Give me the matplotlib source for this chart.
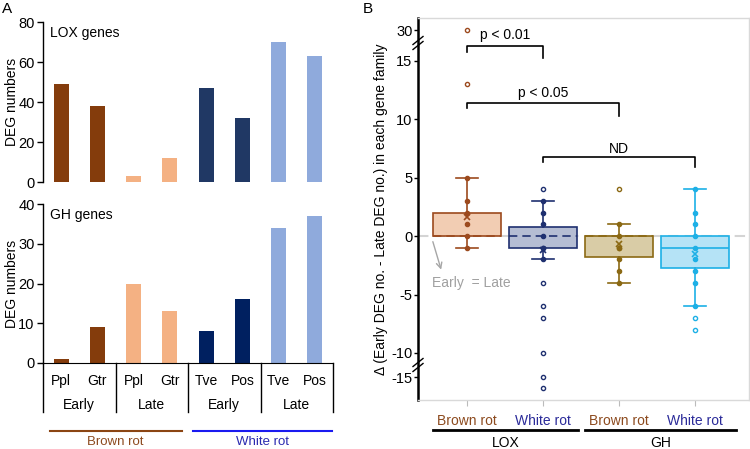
import matplotlib
matplotlib.use("Agg")
import matplotlib.pyplot as plt
import matplotlib.transforms as mtransforms
import numpy as np

plt.rcParams['font.family'] = ['Liberation Sans', 'DejaVu Sans']

# ---- panel A data ----
strains = ['Ppl', 'Gtr', 'Ppl', 'Gtr', 'Tve', 'Pos', 'Tve', 'Pos']
stages = ['Early', 'Late', 'Early', 'Late']
lox_counts = [49, 38, 3, 12, 47, 32, 70, 63]
gh_counts = [1, 9, 20, 13, 8, 16, 34, 37]
lox_colors = ['#843C0C', '#843C0C', '#F4B183', '#F4B183',
              '#203864', '#203864', '#8FAADC', '#8FAADC']
gh_colors = ['#843C0C', '#843C0C', '#F4B183', '#F4B183',
             '#002060', '#002060', '#8FAADC', '#8FAADC']

# ---- panel B data ----
groups = ['Brown rot', 'White rot', 'Brown rot', 'White rot']
families = ['LOX', 'GH']
box_stats = [
    dict(q1=0, med=0, q3=2, whislo=-1, whishi=5, mean=1.65),
    dict(q1=-1, med=0, q3=0.75, whislo=-2, whishi=3, mean=-1.2),
    dict(q1=-1.8, med=0, q3=0, whislo=-4, whishi=1, mean=-0.7),
    dict(q1=-2.75, med=-1, q3=0, whislo=-6, whishi=4, mean=-1.5),
]
points = [
    [30, 13, 5, 3, 2, 1, 0, -1],
    [4, 3, 2, 1, 0, -1, -1, -2, -4, -6, -7, -10, -15, -16],
    [4, 1, 0, -1, -1, -2, -3, -4],
    [4, 2, 1, 0, -1, -2, -3, -4, -6, -7, -8],
]
box_faces = ['#F2CDB3', '#B5BDD3', '#D9CCA6', '#B5E3F6']
box_edges = ['#9C4A1E', '#1F3070', '#8B6914', '#1DB0E6']
label_colors = ['#8C4A1E', '#2A2A99', '#8C4A1E', '#2A2A99']

fig = plt.figure(figsize=(7.5, 4.49), dpi=100)

# ================= panel A =================
ax1 = fig.add_axes([43/750, 1-182/449, 290/750, 160/449])
ax2 = fig.add_axes([43/750, 1-363/449, 290/750, 159/449])
xpos = np.arange(len(strains)) + 0.5

ax1.bar(xpos, lox_counts, width=0.42, color=lox_colors)
ax2.bar(xpos, gh_counts, width=0.42, color=gh_colors)

for ax in (ax1, ax2):
    ax.set_xlim(0, 8)
    for s in ['top', 'right']:
        ax.spines[s].set_visible(False)
    ax.spines['left'].set_linewidth(1.0)
    ax.tick_params(axis='y', labelsize=10.5, length=4, width=1, pad=2)
    ax.set_ylabel('DEG numbers', fontsize=10)
    ax.yaxis.set_label_coords(-0.083, 0.5)

ax1.spines['bottom'].set_visible(False)
ax1.set_xticks([])
ax1.set_ylim(0, 80)
ax1.set_yticks([0, 20, 40, 60, 80])
ax1.text(0.2, 78, 'LOX genes', fontsize=10, va='top')

ax2.set_ylim(0, 40)
ax2.set_yticks([0, 10, 20, 30, 40])
ax2.set_xticks(xpos)
ax2.set_xticklabels(strains, fontsize=10)
ax2.tick_params(axis='x', length=0, pad=8)
ax2.text(0.2, 39, 'GH genes', fontsize=10, va='top')

sep = mtransforms.blended_transform_factory(ax2.transData, ax2.transAxes)
for xs in [0, 2, 4, 6, 8]:
    ax2.plot([xs, xs], [0, -0.31], color='black', lw=1, transform=sep, clip_on=False)
for i, st in enumerate(stages):
    ax2.text(2*i + 1, -0.265, st, transform=sep, ha='center', va='center', fontsize=10)

figx = mtransforms.blended_transform_factory(ax2.transData, fig.transFigure)
ax2.plot([0.19, 3.83], [1-431/449]*2, color='#8B4513', lw=1.5, transform=figx, clip_on=False)
ax2.plot([4.14, 7.97], [1-431/449]*2, color='#1A1AF0', lw=1.5, transform=figx, clip_on=False)
ax2.text(2.0, 1/449, 'Brown rot', color='#8C4A1E', fontsize=9.5, ha='center', va='bottom', transform=figx)
ax2.text(6.05, 1/449, 'White rot', color='#2A2AB0', fontsize=9.5, ha='center', va='bottom', transform=figx)

fig.text(2/750, 1-9/449, 'A', fontsize=11, va='center')
fig.text(363/750, 1-9/449, 'B', fontsize=11, va='center')


# ================= panel B =================
def fwd(y):
    y = np.asarray(y, float)
    return np.where(y > 15, 15 + (y - 15) * 2.6 / 15,
           np.where(y >= -10, y,
           np.where(y >= -15, -10 + (y + 10) * 0.414, -12.07 + (y + 15) * 0.93)))


def inv(t):
    t = np.asarray(t, float)
    return np.where(t > 15, 15 + (t - 15) * 15 / 2.6,
           np.where(t >= -10, t,
           np.where(t >= -12.07, -10 + (t + 10) / 0.414, -15 + (t + 12.07) / 0.93)))


axb = fig.add_axes([418/750, 1-400/449, 331/750, 382/449])
axb.set_yscale('function', functions=(fwd, inv))
axb.set_xlim(0.355, 4.71)
axb.set_ylim(-17.1, 36.1)

axb.axhline(0, color='#D4D4D4', ls=(0, (5, 3)), lw=1.5, zorder=0)

positions = np.arange(1, len(groups) + 1)
for i, st in enumerate(box_stats):
    s = dict(st, fliers=[])
    art = axb.bxp([s], positions=[positions[i]], widths=0.9, capwidths=0.3,
                  showmeans=True, patch_artist=True, showfliers=False)
    c = box_edges[i]
    for b in art['boxes']:
        b.set_facecolor(box_faces[i])
        b.set_edgecolor(c)
        b.set_linewidth(1.2)
    for w in art['whiskers'] + art['caps']:
        w.set_color(c)
        w.set_linewidth(1.2)
    for m in art['medians']:
        m.set_color(c)
        m.set_linewidth(1.2)
        if st['med'] == 0:
            m.set_linestyle((0, (5, 3)))
    for m in art['means']:
        m.set_marker('x')
        m.set_markeredgecolor(c)
        m.set_markerfacecolor(c)
        m.set_markersize(5)
        m.set_markeredgewidth(1.2)
    vals = np.array(points[i], float)
    inside = (vals >= st['whislo']) & (vals <= st['whishi'])
    axb.plot(np.full(inside.sum(), positions[i]), vals[inside], 'o', ms=3,
             color=c, mec=c, zorder=5)
    axb.plot(np.full((~inside).sum(), positions[i]), vals[~inside], 'o', ms=3,
             mfc='white', mec=c, mew=1, zorder=5)

axb.set_yticks([30, 15, 10, 5, 0, -5, -10, -15])
axb.set_yticklabels(['30', '15', '10', '5', '0', '-5', '-10', '-15'])
axb.yaxis.set_minor_locator(matplotlib.ticker.NullLocator())
axb.tick_params(axis='y', labelsize=10.5, length=3, width=1, pad=1)
axb.set_xticks(positions)
axb.set_xticklabels(groups, fontsize=10)
for lab, col in zip(axb.get_xticklabels(), label_colors):
    lab.set_color(col)
axb.tick_params(axis='x', length=4, color='#BBBBBB', pad=6)

for s in ['top', 'right', 'bottom']:
    axb.spines[s].set_color('#D9D9D9')
    axb.spines[s].set_linewidth(1)
axb.spines['left'].set_linewidth(1.8)
axb.spines['left'].set_color('black')

axb.set_ylabel('Δ (Early DEG no. - Late DEG no.) in each gene family', fontsize=10, labelpad=2)

# axis break marks
px, py = 1/331, 1/382
for yb in [(400-43)/382, (400-365)/382]:
    for dy in (-2.5, 2.5):
        axb.plot([-5*px, 5*px], [yb + (dy-4)*py, yb + (dy+4)*py], color='black',
                 lw=1, transform=axb.transAxes, clip_on=False)

# significance brackets (axes y fractions)
bt = mtransforms.blended_transform_factory(axb.transData, axb.transAxes)
brackets = [(1, 2, 0.927, 0.911, 0.895, 'p < 0.01', 0.955),
            (1, 3, 0.777, 0.764, 0.743, 'p < 0.05', 0.804),
            (2, 4, 0.636, 0.623, 0.610, 'ND', 0.657)]
for x0, x1, ytop, yl, yr, txt, ty in brackets:
    axb.plot([x0, x0, x1, x1], [yl, ytop, ytop, yr], color='black', lw=1.2, transform=bt)
    axb.text((x0 + x1) / 2, ty, txt, ha='center', va='center', fontsize=10, transform=bt)

axb.annotate('', xy=(0.67, -3.1), xytext=(0.54, -0.25),
             arrowprops=dict(arrowstyle='->', color='#A6A6A6', lw=1))
axb.text(0.54, -4.0, 'Early  = Late', color='#A0A0A0', fontsize=10, ha='left', va='center')

# family group lines under panel B
for k, fam in enumerate(families):
    xa, xb2 = [(0.553, 2.46), (2.55, 4.54)][k]
    axb.plot([xa, xb2], [-0.0785, -0.0785], color='black', lw=2, transform=bt, clip_on=False)
    axb.text((xa + xb2) / 2, -0.112, fam, ha='center', va='center', fontsize=10, transform=bt)

fig.savefig('out.png', dpi=100)
